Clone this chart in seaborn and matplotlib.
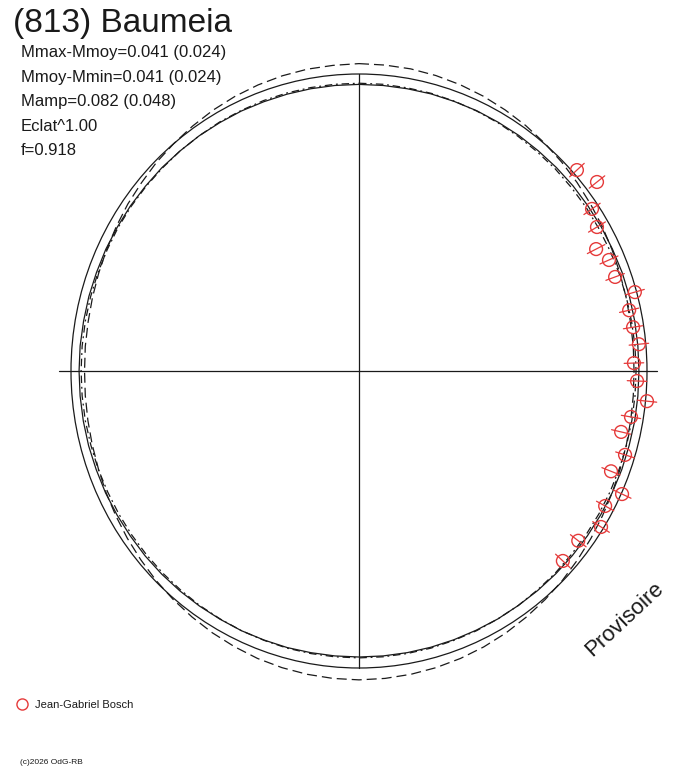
import matplotlib
matplotlib.use("Agg")
import matplotlib.pyplot as plt
import numpy as np
import seaborn as sns
from matplotlib.patches import Circle

# model curves, radius (reference circle = 1) every 5 deg of phase, clockwise from top
curve_phase = list(range(0, 360, 5))
curve_dashed = [
    1.035, 1.034, 1.033, 1.030, 1.026, 1.021, 1.015, 1.009, 1.002, 0.995, 0.988, 0.981,
    0.975, 0.969, 0.964, 0.960, 0.957, 0.956,
    0.955, 0.956, 0.958, 0.961, 0.965, 0.970, 0.976, 0.983, 0.990, 0.998, 1.005, 1.012,
    1.019, 1.025, 1.030, 1.034, 1.037, 1.039,
    1.040, 1.039, 1.037, 1.034, 1.030, 1.024, 1.018, 1.011, 1.004, 0.997, 0.989, 0.982,
    0.975, 0.969, 0.963, 0.959, 0.956, 0.954,
    0.953, 0.954, 0.955, 0.958, 0.962, 0.967, 0.973, 0.980, 0.986, 0.994, 1.000, 1.007,
    1.014, 1.020, 1.025, 1.029, 1.032, 1.033]
curve_solid = [
    0.965, 0.965, 0.965, 0.966, 0.966, 0.967, 0.967, 0.968, 0.968, 0.969, 0.970, 0.970,
    0.971, 0.971, 0.972, 0.972, 0.972, 0.972,
    0.972, 0.972, 0.972, 0.971, 0.971, 0.970, 0.969, 0.968, 0.967, 0.966, 0.965, 0.964,
    0.964, 0.963, 0.963, 0.963, 0.963, 0.963,
    0.963, 0.963, 0.963, 0.964, 0.964, 0.965, 0.965, 0.966, 0.967, 0.968, 0.969, 0.969,
    0.970, 0.971, 0.971, 0.972, 0.972, 0.972,
    0.972, 0.972, 0.971, 0.971, 0.970, 0.970, 0.969, 0.969, 0.968, 0.968, 0.967, 0.967,
    0.966, 0.966, 0.965, 0.965, 0.965, 0.965]
curve_dashdot = [
    0.969, 0.969, 0.968, 0.968, 0.967, 0.966, 0.965, 0.964, 0.963, 0.963, 0.962, 0.962,
    0.961, 0.961, 0.961, 0.961, 0.961, 0.962,
    0.962, 0.962, 0.962, 0.962, 0.962, 0.962, 0.962, 0.962, 0.962, 0.963, 0.963, 0.964,
    0.964, 0.965, 0.965, 0.966, 0.966, 0.966,
    0.966, 0.966, 0.966, 0.966, 0.965, 0.965, 0.964, 0.964, 0.963, 0.963, 0.963, 0.963,
    0.963, 0.963, 0.964, 0.964, 0.965, 0.965,
    0.965, 0.965, 0.965, 0.965, 0.965, 0.965, 0.966, 0.966, 0.966, 0.966, 0.967, 0.967,
    0.968, 0.968, 0.969, 0.969, 0.969, 0.969]

# observations (phase in deg, radius)
obs_phase = [48.2, 52.4, 56.0, 59.6, 63.5, 66.7, 70.4, 74.5, 77.7, 81.2, 84.7, 88.4,
             92.0, 95.8, 99.3, 102.7, 107.0, 111.1, 114.4, 118.0, 122.0, 126.9, 132.1]
obs_r = [1.015, 1.043, 0.976, 0.958, 0.920, 0.945, 0.944, 0.994, 0.960, 0.963, 0.976, 0.955,
         0.966, 1.005, 0.957, 0.933, 0.966, 0.938, 1.003, 0.968, 0.991, 0.952, 0.954]
obs_err = 0.034

title = "(813) Baumeia"
info_lines = ["Mmax-Mmoy=0.041 (0.024)", "Mmoy-Mmin=0.041 (0.024)",
              "Mamp=0.082 (0.048)", "Eclat^1.00", "f=0.918"]
observer = "Jean-Gabriel Bosch"

W, H = 688, 768
CX, CY = 359, 371
RX, RY = 288, 297
INK = "#1a1a1a"
RED = "#e53a3a"

sns.set_theme(style="white")
plt.rcParams["font.family"] = ["Liberation Sans", "DejaVu Sans"]


def polar(phase_deg, r):
    t = np.radians(np.asarray(phase_deg, dtype=float))
    r = np.asarray(r, dtype=float)
    return r * np.sin(t), r * np.cos(t)


def fxy(x, y):
    return x / W, 1 - y / H


fig = plt.figure(figsize=(W / 100, H / 100), dpi=100)
ax = fig.add_axes([0, 0, 1, 1])
ax.set_xlim(-CX / RX, (W - CX) / RX)
ax.set_ylim(-(H - CY) / RY, CY / RY)
ax.axis("off")

# axes cross
ax.plot([-1.042, 1.035], [0, 0], color=INK, lw=0.9)
ax.plot([0, 0], [-1, 1], color=INK, lw=0.9)

# reference circle
ax.add_patch(Circle((0, 0), 1.0, fill=False, ec=INK, lw=0.9))

for vals, ls in [(curve_dashed, (0, (8, 4))), (curve_solid, "-"), (curve_dashdot, (0, (6, 3, 1.5, 3)))]:
    x, y = polar(curve_phase + [360], vals + [vals[0]])
    sns.lineplot(x=x, y=y, sort=False, estimator=None, color=INK, lw=0.9, linestyle=ls, ax=ax)

# radial error bars
for p, r in zip(obs_phase, obs_r):
    x, y = polar([p, p], [r - obs_err, r + obs_err])
    ax.plot(x, y, color=RED, lw=0.9, zorder=4)

ox, oy = polar(obs_phase, obs_r)
sns.scatterplot(x=ox, y=oy, marker="o", s=85, facecolors="none", edgecolor=RED,
                linewidth=1.0, zorder=5, ax=ax)

# texts
fig.text(*fxy(13, 32), title, fontsize=24, color=INK, va="baseline", ha="left")
for i, line in enumerate(info_lines):
    fig.text(*fxy(21, 57 + i * 24.6), line, fontsize=12, color=INK, va="baseline", ha="left")

fig.text(*fxy(624, 619), "Provisoire", fontsize=16, color=INK, rotation=43,
         ha="center", va="center")

fig.add_artist(plt.Line2D([22 / W], [1 - 704 / H], marker="o", ms=8, mfc="none",
                          mec=RED, mew=1.0, transform=fig.transFigure))
fig.text(*fxy(35, 705), observer, fontsize=8, color=INK, va="center", ha="left")
fig.text(*fxy(20, 763), "(c)2026 OdG-RB", fontsize=6, color=INK, va="center", ha="left")

fig.savefig("out.png", dpi=100, facecolor="white")
